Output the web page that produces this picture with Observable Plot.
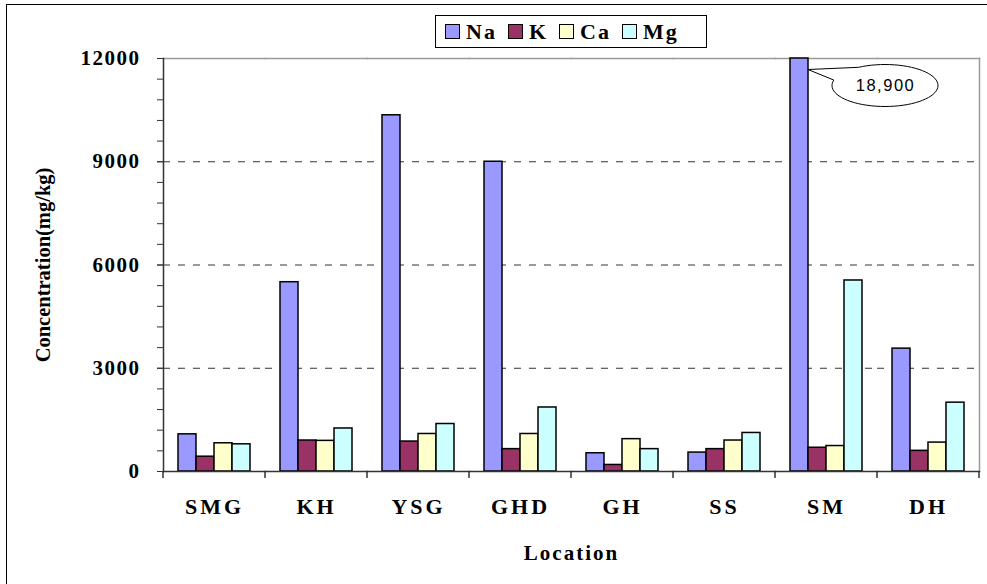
<!DOCTYPE html>
<html><head><meta charset="utf-8">
<script src="https://cdn.jsdelivr.net/npm/d3@7"></script>
<script src="https://cdn.jsdelivr.net/npm/@observablehq/plot@0.6"></script>
<style>
body{margin:0;background:#fff;}
#wrap{position:relative;width:987px;height:584px;overflow:hidden;font-family:"Liberation Serif",serif;}
#frame{position:absolute;left:5.5px;top:3.5px;width:1000px;height:600px;border:1.5px solid #000;box-sizing:border-box;pointer-events:none;}
#chart{position:absolute;left:0;top:0;}
#legend{position:absolute;left:435px;top:15px;width:272px;height:33px;border:1.5px solid #000;box-sizing:border-box;background:#fff;display:flex;align-items:center;padding-left:9px;font-weight:bold;font-size:22px;}
.sw{display:inline-block;width:15px;height:15px;border:1.5px solid #000;box-sizing:border-box;margin-right:6px;}
.lab{margin-right:11px;letter-spacing:2px;}
g[aria-label="fx-axis tick label"] text{letter-spacing:3px;}
g[aria-label="y-axis tick label"] text{letter-spacing:1.5px;}
g[aria-label="fx-axis label"] text{letter-spacing:2px;font-size:21px;font-weight:bold;}
g[aria-label="y-axis label"] text{font-size:20.5px;font-weight:bold;}
g[aria-label="text"] text{letter-spacing:1.5px;}
</style>
</head><body>
<div id="wrap">
  <div id="chart"></div>
  <div id="legend"></div>
  <div id="frame"></div>
</div>
<script>
// ---- data ----
const locations = ["SMG", "KH", "YSG", "GHD", "GH", "SS", "SM", "DH"];
const ions = ["Na", "K", "Ca", "Mg"];
const na = [1080, 5500, 10350, 9000, 530, 550, 18900, 3570];
const k  = [430, 900, 870, 650, 190, 650, 690, 600];
const ca = [820, 890, 1090, 1090, 940, 900, 740, 840];
const mg = [790, 1250, 1380, 1860, 650, 1120, 5550, 2000];
const colors = ["#9999FF", "#993366", "#FFFFCC", "#CCFFFF"];
const yTicks = [0, 3000, 6000, 9000, 12000];
const gridTicks = [3000, 6000, 9000];
const minorTicks = d3.range(0, 12001, 600);
const yMax = 12000;

const series = [na, k, ca, mg];
const data = locations.flatMap((loc, i) => ions.map((ion, j) => ({loc, ion, value: series[j][i]})));
const over = data.filter(d => d.value > yMax);

// callout balloon symbol (ellipse with pointer toward the clipped bar)
const balloon = {
  draw(ctx) {
    const rx = 53, ry = 21;
    const a1 = -120 * Math.PI / 180, a2 = -165 * Math.PI / 180;
    ctx.moveTo(rx * Math.cos(a1), ry * Math.sin(a1));
    ctx.lineTo(-77, -16);
    ctx.lineTo(rx * Math.cos(a2), ry * Math.sin(a2));
    for (let t = -165; t >= -480; t -= 5) {
      const a = t * Math.PI / 180;
      ctx.lineTo(rx * Math.cos(a), ry * Math.sin(a));
    }
    ctx.closePath();
  }
};

const plot = Plot.plot({
  width: 987, height: 584,
  marginLeft: 163, marginRight: 8, marginTop: 58, marginBottom: 113,
  style: {fontFamily: '"Liberation Serif", serif', background: "transparent", overflow: "visible", color: "#000"},
  fx: {domain: locations, padding: 0},
  x: {domain: ions, paddingInner: 0, paddingOuter: 0.716, axis: null},
  y: {domain: [0, yMax], clamp: true},
  color: {domain: ions, range: colors},
  marks: [
    Plot.gridY(gridTicks, {stroke: "#333", strokeOpacity: 1, strokeDasharray: "7,8", strokeWidth: 1}),
    Plot.frame({anchor: "top", stroke: "#9a9a9a", strokeWidth: 1.5}),
    Plot.frame({anchor: "right", stroke: "#9a9a9a", strokeWidth: 1.5, facetAnchor: "right"}),
    Plot.barY(data, {fx: "loc", x: "ion", y: "value", fill: "ion", stroke: "#000", strokeWidth: 1.5, inset: 0}),
    Plot.frame({anchor: "bottom", stroke: "#333", strokeWidth: 1.5}),
    Plot.frame({anchor: "left", stroke: "#333", strokeWidth: 1.5, facetAnchor: "left"}),
    Plot.axisY(minorTicks, {tickSize: 6, tickFormat: () => "", label: null, stroke: "#333"}),
    Plot.axisY(yTicks, {tickSize: 6, tickPadding: 17, fontSize: 21, fontWeight: "bold", stroke: "#333",
      tickFormat: d => String(d),
      label: "Concentration(mg/kg)", labelAnchor: "center", labelOffset: 128, labelArrow: "none"}),
    Plot.axisFx({anchor: "bottom", tickSize: 0, tickPadding: 27, fontSize: 22, fontWeight: "bold",
      label: "Location", labelAnchor: "center", labelOffset: 88}),
    Plot.dot(over, {fx: "loc", x: "ion", y: () => yMax, dx: 85.5, dy: 27, symbol: balloon, r: 10, fill: "#fff", stroke: "#000", strokeWidth: 1}),
    Plot.text(over, {fx: "loc", x: "ion", y: () => yMax, dx: 86, dy: 27, text: d => d3.format(",")(d.value),
      fontFamily: '"Liberation Sans", Arial, sans-serif', fontSize: 16.5, fill: "#000"})
  ]
});
document.getElementById("chart").appendChild(plot);

// tick marks at the category boundaries on the x axis
const fx = plot.scale("fx"), y = plot.scale("y");
const base = y.apply(0);
const bounds = locations.map(l => fx.apply(l)).concat([fx.apply(locations[locations.length - 1]) + fx.bandwidth]);
d3.select(plot).append("g").selectAll("line").data(bounds).join("line")
  .attr("x1", d => d).attr("x2", d => d).attr("y1", base).attr("y2", base + 7)
  .attr("stroke", "#333").attr("stroke-width", 1.5);

// legend
const leg = d3.select("#legend");
ions.forEach((ion, i) => {
  leg.append("span").attr("class", "sw").style("background", colors[i]);
  leg.append("span").attr("class", "lab").text(ion);
});
</script>
</body></html>
